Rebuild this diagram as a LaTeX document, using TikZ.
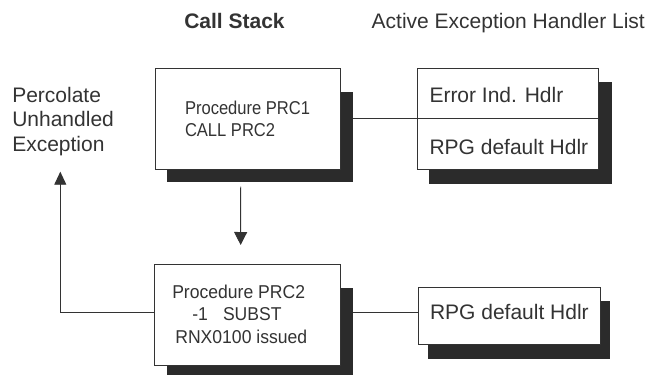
\documentclass[tikz,border=0pt]{standalone}
\usepackage{fontspec}
\setmainfont{Liberation Sans}
\newfontfamily\boxfontA[FakeStretch=0.89]{Liberation Sans}
\newfontfamily\boxfontB[FakeStretch=0.945]{Liberation Sans}
\usetikzlibrary{arrows.meta}
\definecolor{ink}{HTML}{333333}
\definecolor{shade}{HTML}{2B2B2B}
\begin{document}
\begin{tikzpicture}[x=1pt,y=-1pt,
  line width=0.9pt, draw=ink, text=ink,
  every node/.style={inner sep=0pt, outer sep=0pt},
  boxnode/.style={draw=ink, fill=white, rectangle, line width=0.9pt},
  shadowbox/.style={fill=shade, draw=none},
  lbl/.style={font=\fontsize{21}{24}\selectfont, anchor=base west},
  prcA/.style={font=\boxfontA\fontsize{18.6}{22}\selectfont, anchor=base west},
  prcB/.style={font=\boxfontB\fontsize{18.6}{22}\selectfont, anchor=base},
  tipA/.style={-{Triangle[width=13pt,length=13pt]}},
  tipB/.style={-{Triangle[width=12pt,length=13pt]}}
]
\useasboundingbox (0,0) rectangle (649,375);

% headers
\node[lbl, font=\bfseries\fontsize{21}{24}\selectfont] (hcs) at (184.3,28.3) {Call Stack};
\node[lbl] (hael) at (371.7,28.3) {Active Exception Handler List};

% left label
\node[lbl] (p1) at (12.3,102.7) {Percolate};
\node[lbl] (p2) at (12.3,126.9) {Unhandled};
\node[lbl] (p3) at (12.3,151) {Exception};

% box geometry (named, drawn later)
\path (247.5,118.5) node[minimum width=185pt, minimum height=101pt] (b1) {};
\path (507.5,118.5) node[minimum width=181pt, minimum height=101pt] (h1) {};
\path (247.25,315) node[minimum width=185.5pt, minimum height=101pt] (b2) {};
\path (509,315.5) node[minimum width=182pt, minimum height=57pt] (h3) {};
\coordinate (tip) at (60.3,171.7);

% connectors
\draw (b1.east) -- (h1.west);
\draw ([yshift=3pt]b2.east) -- ([yshift=3pt]b2.east -| h3.west);
\draw[tipB] ([yshift=3pt]b2.west) -| (tip);
\draw[tipA] ([xshift=-6.8pt,yshift=-17.5pt]b1.south) -- ([xshift=-6.6pt,yshift=19.5pt]b2.north);

% shadows
\fill[shadowbox] (167,92) rectangle (353,182);
\fill[shadowbox] (429,82) rectangle (612,184);
\fill[shadowbox] (167,288) rectangle (353,380);
\fill[shadowbox] (428,301) rectangle (610,359);

% boxes
\node[boxnode, minimum width=185pt, minimum height=101pt] at (b1.center) {};
\node[boxnode, minimum width=181pt, minimum height=101pt] at (h1.center) {};
\draw (h1.west) -- (h1.east);
\node[boxnode, minimum width=185.5pt, minimum height=101pt] at (b2.center) {};
\node[boxnode, minimum width=182pt, minimum height=57pt] at (h3.center) {};

% box texts
\node[prcA] (t1a) at (185,114.3) {Procedure PRC1};
\node[prcA] (t1b) at (185,136.7) {CALL PRC2};

\node[lbl] (e1) at (429.5,102.3) {Error Ind. Hdlr};
\node[lbl] (e2) at (429.5,154) {RPG default Hdlr};

\node[prcB] (t2a) at (238.7,298.3) {Procedure PRC2};
\node[prcB] (t2b) at (237,320.5) {-1\hspace{15pt}SUBST};
\node[prcB] (t2c) at (241.3,343.3) {RNX0100 issued};

\node[lbl] (e3) at (430,319.3) {RPG default Hdlr};
\end{tikzpicture}
\end{document}
